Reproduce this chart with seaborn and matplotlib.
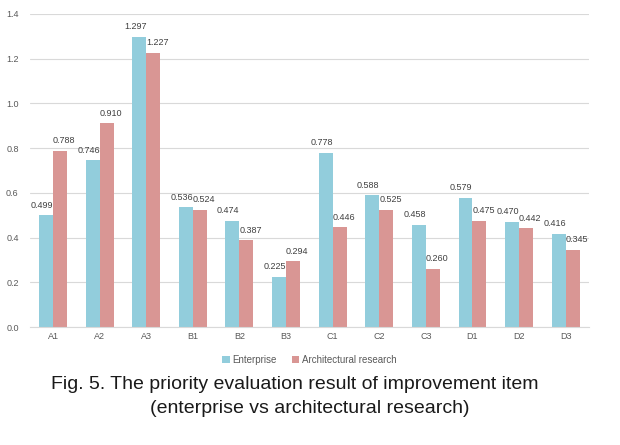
import numpy as np
import pandas as pd
import seaborn as sns
import matplotlib.pyplot as plt

items = ["A1", "A2", "A3", "B1", "B2", "B3", "C1", "C2", "C3", "D1", "D2", "D3"]
enterprise = [0.499, 0.746, 1.297, 0.536, 0.474, 0.225, 0.778, 0.588, 0.458, 0.579, 0.470, 0.416]
arch_research = [0.788, 0.910, 1.227, 0.524, 0.387, 0.294, 0.446, 0.525, 0.260, 0.475, 0.442, 0.345]
series = ["Enterprise", "Architectural research"]
colors = ["#92CDDC", "#D99694"]

df = pd.DataFrame({
    "item": items * 2,
    "value": enterprise + arch_research,
    "group": [series[0]] * len(items) + [series[1]] * len(items),
})

sns.set_style("white")
plt.rcParams['font.family'] = ['Liberation Sans', 'DejaVu Sans']

fig = plt.figure(figsize=(6.2, 4.45), dpi=100)
ax = fig.add_axes([0.048, 0.265, 0.902, 0.704])

sns.barplot(data=df, x="item", y="value", hue="group", palette=colors,
            saturation=1, width=0.6, linewidth=0, ax=ax, legend=True)

# excel-style labels, nudged apart a little so neighbours don't collide
for cont, dx in zip(ax.containers, [-3, 3]):
    anns = ax.bar_label(cont, fmt="%.3f", padding=4, fontsize=6.5, color="#404040")
    for a in anns:
        a.xyann = (dx, 4)

ax.set_ylim(0, 1.4)
ax.set_yticks(np.arange(0, 1.41, 0.2))
ax.set_yticklabels([f"{v:.1f}" for v in np.arange(0, 1.41, 0.2)])
ax.yaxis.grid(True, color="#d9d9d9", linewidth=0.8)
ax.set_axisbelow(True)
ax.set_xlabel("")
ax.set_ylabel("")
for s in ["top", "right", "left"]:
    ax.spines[s].set_visible(False)
ax.spines["bottom"].set_color("#d9d9d9")
ax.tick_params(axis="both", length=0, labelsize=6.5, labelcolor="#595959")
ax.tick_params(axis="y", pad=8)
ax.set_xlim(-0.5, len(items) - 0.5)

ax.legend(loc="upper center", bbox_to_anchor=(0.5, -0.06), ncol=2, frameon=False,
          fontsize=7, handlelength=0.8, handleheight=0.8, columnspacing=1.5,
          handletextpad=0.3, labelcolor="#595959")

fig.text(0.476, 0.135, "Fig. 5. The priority evaluation result of improvement item",
         ha="center", va="center", fontsize=14, color="#1a1a1a")
fig.text(0.5, 0.083, "(enterprise vs architectural research)",
         ha="center", va="center", fontsize=14, color="#1a1a1a")

fig.savefig("out.png", dpi=100)
